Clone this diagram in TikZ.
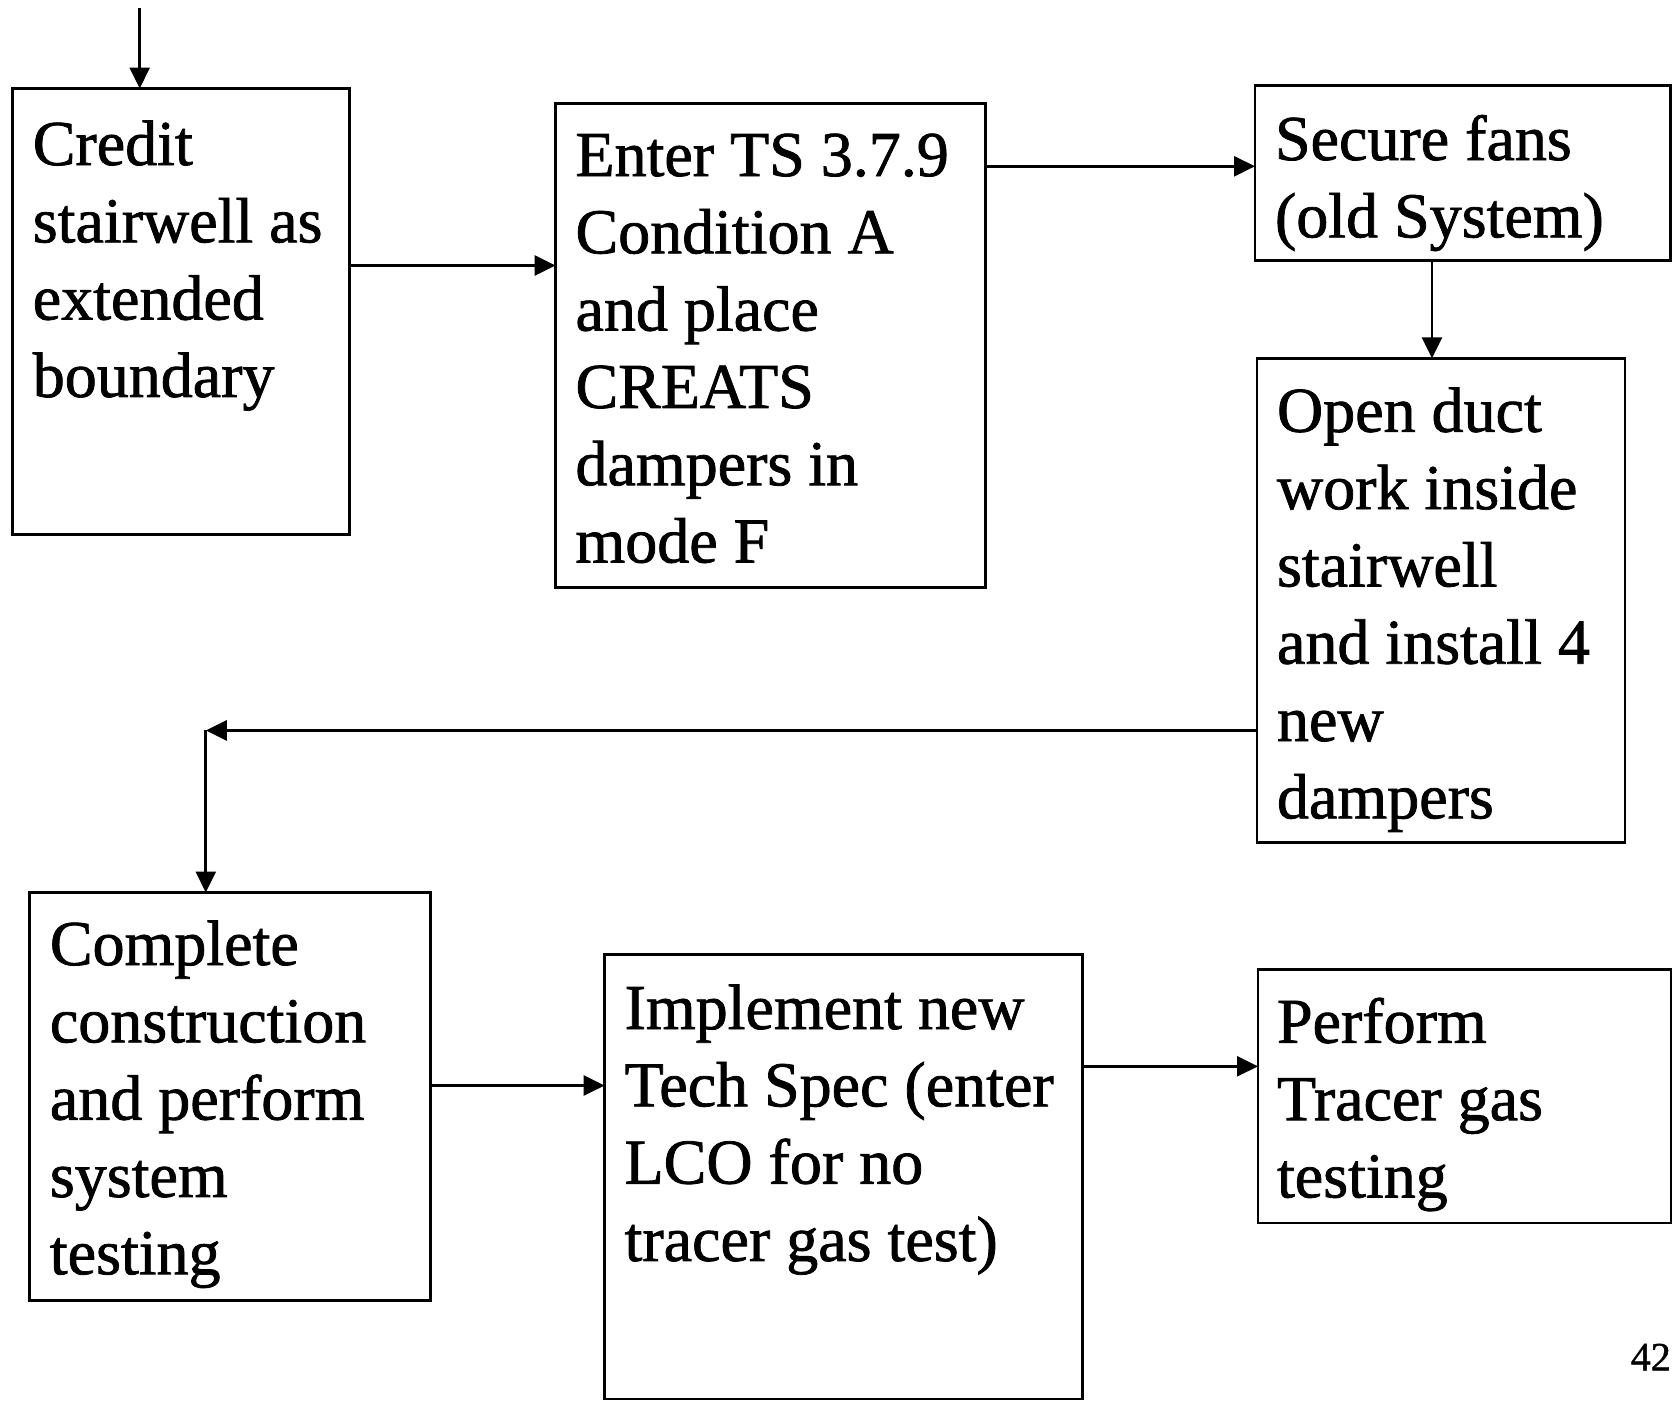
\documentclass[tikz,border=0pt]{standalone}
\usepackage{fontspec}
\setmainfont{Liberation Serif}[FakeBold=1.2]
\usetikzlibrary{arrows.meta}
\begin{document}
\begin{tikzpicture}[x=1pt,y=-1pt,
  stepbox/.style={draw, line width=2.9pt, rectangle, inner sep=0pt, outer sep=0pt, anchor=north west},
  boxtext/.style={anchor=north west, inner sep=0pt, outer sep=0pt, text width=470pt, align=flush left,
    font=\fontsize{64}{77.3}\selectfont},
  flow/.style={line width=2.9pt, -{Triangle[length=21pt,width=20pt]}}]
\fill[white] (0,0) rectangle (1672,1401);
\useasboundingbox (0,0) rectangle (1672,1401);

% process boxes
\node[stepbox, minimum width=337pt,   minimum height=445.7pt] (b1) at (12.8,88.5) {};
\node[stepbox, minimum width=429.8pt, minimum height=484.1pt] (b2) at (555.5,103.4) {};
\node[stepbox, minimum width=415.5pt, minimum height=175pt]   (b3) at (1255,85.3) {};
\node[stepbox, minimum width=368pt,   minimum height=484pt]   (b4) at (1257,358.3) {};
\node[stepbox, minimum width=401pt,   minimum height=408.4pt] (b5) at (29.9,892.5) {};
\node[stepbox, minimum width=477.7pt, minimum height=444.7pt] (b6) at (604.6,954.3) {};
\node[stepbox, minimum width=413pt,   minimum height=253.7pt] (b7) at (1258,969.3) {};

% box texts (a 60pt strut fixes the first baseline)
\newcommand{\firstline}{\rule{0pt}{60pt}}
\node[boxtext] (t1) at ([shift={(20,16.5)}]b1.north west)
  {\firstline Credit\\stairwell as\\extended\\boundary};
\node[boxtext] (t2) at ([shift={(20,12.6)}]b2.north west)
  {\firstline Enter TS 3.7.9\\Condition A\\and place\\CREATS\\dampers in\\mode F};
\node[boxtext] (t3) at ([shift={(20,14.7)}]b3.north west)
  {\firstline Secure fans\\(old System)};
\node[boxtext] (t4) at ([shift={(20,13.5)}]b4.north west)
  {\firstline Open duct\\work inside\\stairwell\\and install 4\\new\\dampers};
\node[boxtext] (t5) at ([shift={(20,12.5)}]b5.north west)
  {\firstline Complete\\construction\\and perform\\system\\testing};
\node[boxtext] (t6) at ([shift={(20,14.7)}]b6.north west)
  {\firstline Implement new\\Tech Spec (enter\\LCO for no\\tracer gas test)};
\node[boxtext] (t7) at ([shift={(19,13.5)}]b7.north west)
  {\firstline Perform\\Tracer gas\\testing};

% page number
\node[font=\fontsize{40}{44}\selectfont, inner sep=0pt, anchor=east] (pg) at (1671,1357) {42};

% connectors
\coordinate (top) at (139.7,8);
\draw[flow] (top) -- (top |- b1.north);
\coordinate (y12) at (0,265.5);
\draw[flow] (b1.east |- y12) -- (b2.west |- y12);
\coordinate (y23) at (0,166.3);
\draw[flow] (b2.east |- y23) -- (b3.west |- y23);
\coordinate (x34) at (1432,0);
\draw[flow] (b3.south -| x34) -- (b4.north -| x34);
\coordinate (bend) at (205.8,730.4);
\draw[flow] (b4.west |- bend) -- (bend);
\draw[flow] (bend) -- (bend |- b5.north);
\coordinate (y56) at (0,1085.5);
\draw[flow] (b5.east |- y56) -- (b6.west |- y56);
\coordinate (y67) at (0,1066.3);
\draw[flow] (b6.east |- y67) -- (b7.west |- y67);
\end{tikzpicture}
\end{document}
